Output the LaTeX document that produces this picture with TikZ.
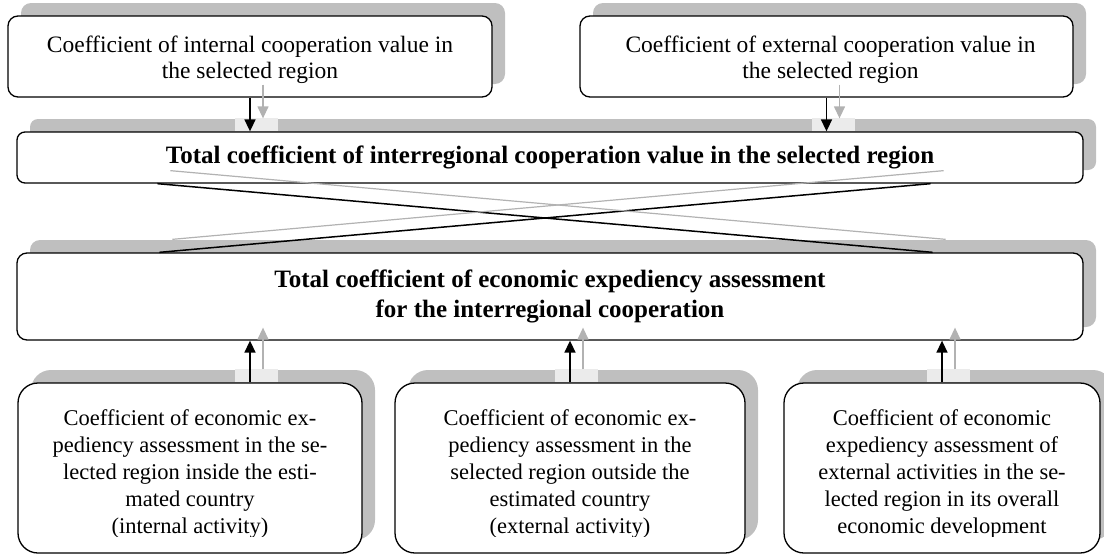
\documentclass[tikz,border=0pt]{standalone}
\usepackage{fontspec}
\setmainfont{Liberation Serif}
\usetikzlibrary{arrows.meta,shadows,calc}

\begin{document}
\begin{tikzpicture}[x=1pt,y=-1pt,
    box/.style={draw, line width=1.3pt, fill=white, rounded corners=10pt, inner sep=0pt,
      drop shadow={shadow xshift=13pt, shadow yshift=13pt, fill=black!25, opacity=1}},
    bigbox/.style={box, rounded corners=20pt},
    txt/.style={align=center, font=\fontsize{23.5}{26}\selectfont},
    lowtxt/.style={align=center, font=\fontsize{22.5}{27}\selectfont},
    boldtxt/.style={align=center, font=\fontsize{25}{30}\selectfont\bfseries},
    arr/.style={-{Triangle[width=11pt,length=12pt]}, line width=1.6pt},
    shadearr/.style={arr, line width=1.3pt, black!30},
    cross/.style={line width=1.5pt},
    shadecross/.style={line width=1.2pt, black!30},
    patch/.style={fill=black!8}]
    \useasboundingbox (0,0) rectangle (1104,554);
    % top row
    \node[box, minimum width=484pt, minimum height=81pt] (intc) at (250,56.5) {};
    \node[box, minimum width=493pt, minimum height=81pt] (extc) at (826.5,56.5) {};
    \node[txt] (intctxt) at ([yshift=-3pt]intc.center)
        {Coefficient of internal cooperation value in\\ the selected region};
    \node[txt] (extctxt) at ([yshift=-3pt,xshift=4pt]extc.center)
        {Coefficient of external cooperation value in\\ the selected region};
    % totals
    \node[box, boldtxt, rounded corners=8pt, minimum width=1066pt, minimum height=51pt] (total) at (550,157.5)
        {Total coefficient of interregional cooperation value in the selected region};
    \node[box, boldtxt, minimum width=1066pt, minimum height=87pt] (expd) at (550,296.5)
        {Total coefficient of economic expediency assessment\\ for the interregional cooperation};
    % bottom row
    \node[bigbox, minimum width=344pt, minimum height=170pt] (inact) at (190,468) {};
    \node[bigbox, minimum width=350pt, minimum height=170pt] (exact) at (570,468) {};
    \node[bigbox, minimum width=316pt, minimum height=170pt] (devel) at (942,468) {};
    \begin{scope}
        \clip (0,383) rectangle (1104,536);
        \node[lowtxt] (inacttxt) at ([yshift=-6pt]inact.center)
            {Coefficient of economic ex-\\ pediency assessment in the se-\\ lected region inside the esti-\\ mated country\\ (internal activity)};
        \node[lowtxt] (exacttxt) at ([yshift=-6pt]exact.center)
            {Coefficient of economic ex-\\ pediency assessment in the\\ selected region outside the\\ estimated country\\ (external activity)};
        \node[lowtxt] (develtxt) at ([yshift=-6pt]devel.center)
            {Coefficient of economic\\ expediency assessment of\\ external activities in the se-\\ lected region in its overall\\ economic development};
    \end{scope}
    % light patches on the shadows
    \foreach \n in {intc,extc}
        \fill[patch] ($(\n.south |- total.north)+(-15,0)$) rectangle ++(43,-13);
    \fill[patch] ($(intc.south |- inact.north)+(-15,0)$) rectangle ++(43,-13);
    \foreach \n in {exact,devel}
        \fill[patch] ($(\n.north)+(-15,0)$) rectangle ++(43,-13);
    % arrows down
    \foreach \n in {intc,extc}{
        \draw[arr] (\n.south) -- (\n.south |- total.north);
        \draw[shadearr] ($(\n.south)+(13,-13)$) -- ($(\n.south |- total.north)+(13,-13)$);
    }
    % arrows up
    \draw[arr] (intc.south |- inact.north) -- (intc.south |- expd.south);
    \draw[shadearr] ($(intc.south |- inact.north)+(13,-13)$) -- ($(intc.south |- expd.south)+(13,-13)$);
    \foreach \n in {exact,devel}{
        \draw[arr] (\n.north) -- (\n.north |- expd.south);
        \draw[shadearr] ($(\n.north)+(13,-13)$) -- ($(\n.north |- expd.south)+(13,-13)$);
    }
    % crossing lines
    \draw[cross] ($(total.south west)+(141,0)$) -- ($(expd.north east)+(-151,0)$);
    \draw[cross] ($(expd.north west)+(143,0)$) -- ($(total.south east)+(-153,0)$);
    \draw[shadecross] ($(total.south west)+(154,-13)$) -- ($(expd.north east)+(-138,-13)$);
    \draw[shadecross] ($(expd.north west)+(156,-13)$) -- ($(total.south east)+(-140,-13)$);
\end{tikzpicture}
\end{document}
